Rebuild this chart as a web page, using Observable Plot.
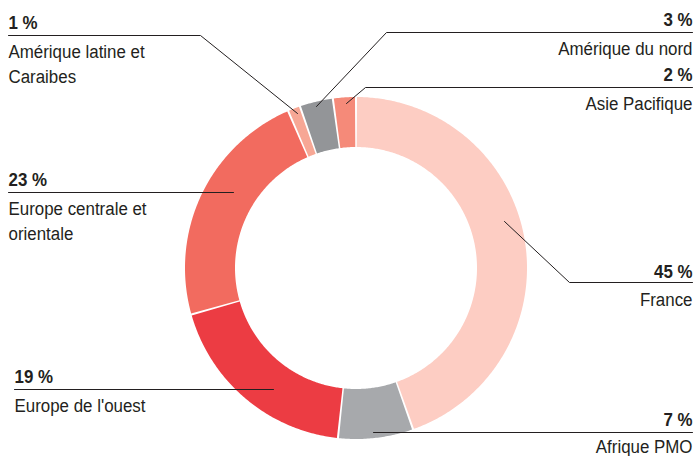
<!DOCTYPE html>
<html>
<head>
<meta charset="utf-8">
<script src="https://cdn.jsdelivr.net/npm/d3@7"></script>
<script src="https://cdn.jsdelivr.net/npm/@observablehq/plot@0.6"></script>
<style>
  html, body { margin: 0; padding: 0; background: #ffffff; }
  #chart { width: 696px; height: 456px; }
</style>
</head>
<body>
<div id="chart"></div>
<script>
// ---- Data ----
const regions = ["France", "Afrique PMO", "Europe de l'ouest", "Europe centrale et orientale", "Amérique latine et Caraibes", "Amérique du nord", "Asie Pacifique"];
const shares = [45, 7, 19, 23, 1, 3, 2];
const percentLabels = ["45 %", "7 %", "19 %", "23 %", "1 %", "3 %", "2 %"];
const nameLines = [["France"], ["Afrique PMO"], ["Europe de l'ouest"], ["Europe centrale et", "orientale"], ["Amérique latine et", "Caraibes"], ["Amérique du nord"], ["Asie Pacifique"]];
const sliceColors = ["#fdcdc3", "#a7a9ac", "#ec3c43", "#f26b5f", "#f7a795", "#939598", "#f58a79"];

// ---- Layout (positions, not data) ----
const W = 696, H = 456;
const center = {x: 356, y: 268};
const rOuter = 171, rInner = 121;
const lineGap = 25;
const labelLayout = [
  {anchor: "end",   x: 692, pctY: 277, nameY: 305, leader: [[692, 282], [569, 282], [504, 221]]},
  {anchor: "end",   x: 692, pctY: 425, nameY: 452, leader: [[692, 432], [373, 432]]},
  {anchor: "start", x: 14,  pctY: 382, nameY: 411, leader: [[14, 389], [273, 389]]},
  {anchor: "start", x: 8,   pctY: 185, nameY: 214, leader: [[8, 192], [233, 192]]},
  {anchor: "start", x: 8,   pctY: 28,  nameY: 57,  leader: [[8, 35], [200, 35], [297, 113]]},
  {anchor: "end",   x: 692, pctY: 25,  nameY: 54,  leader: [[692, 32], [386, 32], [316, 106]]},
  {anchor: "end",   x: 692, pctY: 80,  nameY: 109, leader: [[692, 87], [365, 87], [346, 103]]}
];

// ---- Build slice geometry via d3.pie ----
const arcs = d3.pie().sort(null).value(d => d).padAngle(0.012)(shares);
const ringRows = [];
arcs.forEach((a, i) => {
  const a0 = a.startAngle + a.padAngle / 2, a1 = a.endAngle - a.padAngle / 2;
  const n = Math.max(2, Math.ceil((a1 - a0) / 0.01));
  for (let k = 0; k <= n; k++) {
    const t = a0 + (a1 - a0) * k / n;
    ringRows.push({
      name: regions[i], color: sliceColors[i],
      xo: center.x + rOuter * Math.sin(t), yo: center.y - rOuter * Math.cos(t),
      xi: center.x + rInner * Math.sin(t), yi: center.y - rInner * Math.cos(t)
    });
  }
});

const leaderRows = [];
labelLayout.forEach((l, i) => l.leader.forEach(p => leaderRows.push({name: regions[i], x: p[0], y: p[1]})));

const pctRows = regions.map((r, i) => ({text: percentLabels[i], x: labelLayout[i].x, y: labelLayout[i].pctY, anchor: labelLayout[i].anchor}));
const nameRows = [];
regions.forEach((r, i) => nameLines[i].forEach((t, j) => nameRows.push({text: t, x: labelLayout[i].x, y: labelLayout[i].nameY + j * lineGap, anchor: labelLayout[i].anchor})));

const font = "'Liberation Sans', Arial, sans-serif";
const fs = 19;
const squeeze = 0.89; // mimic the condensed typeface

const chart = Plot.plot({
  width: W, height: H,
  margin: 0,
  x: {domain: [0, W], range: [0, W], axis: null},
  y: {domain: [0, H], range: [0, H], axis: null},
  color: {type: "identity"},
  style: {fontFamily: font, background: "#ffffff", color: "#231f20"},
  marks: [
    Plot.area(ringRows, {x1: "xi", y1: "yi", x2: "xo", y2: "yo", z: "name", fill: "color", curve: "linear"}),
    Plot.line(leaderRows, {x: "x", y: "y", z: "name", stroke: "#231f20", strokeWidth: 1, curve: "linear"}),
    Plot.text(pctRows.filter(d => d.anchor === "start"), {x: "x", y: "y", text: "text", textAnchor: "start", lineAnchor: "bottom", fontSize: fs, fontWeight: "bold", fill: "#231f20"}),
    Plot.text(pctRows.filter(d => d.anchor === "end"), {x: "x", y: "y", text: "text", textAnchor: "end", lineAnchor: "bottom", fontSize: fs, fontWeight: "bold", fill: "#231f20"}),
    Plot.text(nameRows.filter(d => d.anchor === "start"), {x: "x", y: "y", text: "text", textAnchor: "start", lineAnchor: "bottom", fontSize: fs, fill: "#231f20"}),
    Plot.text(nameRows.filter(d => d.anchor === "end"), {x: "x", y: "y", text: "text", textAnchor: "end", lineAnchor: "bottom", fontSize: fs, fill: "#231f20"})
  ]
});
d3.select(chart).selectAll("g[aria-label='text'] text").each(function() {
  const t = this.getAttribute("transform");
  if (t) this.setAttribute("transform", t + ` scale(${squeeze},1)`);
});
document.getElementById("chart").appendChild(chart);
</script>
</body>
</html>
